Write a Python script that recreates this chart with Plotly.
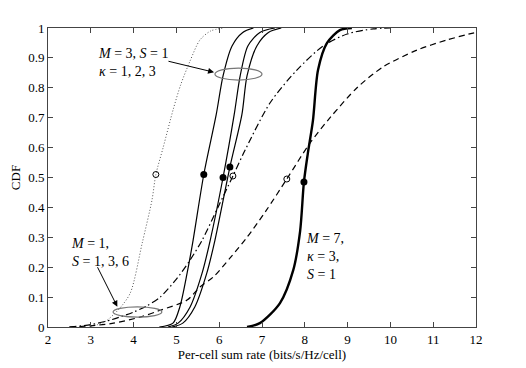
import plotly.graph_objects as go

# CDF curves (rate in bits/s/Hz/cell, CDF value)
# M=1 family (dotted, dash-dot, dashed)
dot_x = [3.0, 3.3, 3.64, 3.92, 4.2, 4.43, 4.52, 4.69, 4.93, 5.1, 5.32, 5.55, 5.8, 6.1]
dot_y = [0.003, 0.015, 0.057, 0.113, 0.28, 0.425, 0.51, 0.60, 0.73, 0.81, 0.89, 0.96, 0.99, 1.0]

dd_x = [2.5, 3.0, 3.5, 4.0, 4.3, 4.62, 5.0, 5.32, 5.6, 5.97, 6.32, 6.6, 7.19, 7.82, 8.43, 8.99, 9.6, 10.0]
dd_y = [0.0, 0.008, 0.025, 0.05, 0.07, 0.10, 0.16, 0.224, 0.29, 0.40, 0.505, 0.59, 0.75, 0.86, 0.94, 0.98, 0.997, 1.0]

da_x = [2.5, 3.0, 3.5, 4.15, 4.6, 5.25, 5.55, 5.86, 6.25, 6.65, 7.1, 7.58, 8.12, 8.59, 9.22, 9.83, 10.62, 11.32, 11.93, 12.0]
da_y = [0.0, 0.004, 0.012, 0.033, 0.055, 0.09, 0.134, 0.167, 0.23, 0.30, 0.39, 0.495, 0.615, 0.70, 0.80, 0.87, 0.926, 0.96, 0.983, 0.985]

# M=3, S=1, kappa=1,2,3 (thin solid)
s1_x = [4.6, 4.92, 5.08, 5.25, 5.39, 5.64, 5.93, 6.09, 6.30, 6.55, 6.8]
s1_y = [0.0, 0.013, 0.067, 0.18, 0.29, 0.51, 0.71, 0.84, 0.94, 0.985, 1.0]

s2_x = [4.8, 5.04, 5.32, 5.60, 5.79, 6.09, 6.35, 6.49, 6.67, 6.95, 7.3]
s2_y = [0.0, 0.013, 0.067, 0.18, 0.29, 0.50, 0.71, 0.84, 0.94, 0.985, 1.0]

s3_x = [4.9, 5.15, 5.43, 5.71, 5.90, 6.25, 6.53, 6.65, 6.88, 7.15, 7.45]
s3_y = [0.0, 0.013, 0.067, 0.18, 0.29, 0.535, 0.71, 0.84, 0.94, 0.985, 1.0]

# M=7, kappa=3, S=1 (thick solid)
t_x = [6.65, 6.95, 7.42, 7.73, 7.89, 7.98, 8.07, 8.19, 8.31, 8.52, 8.82, 9.1]
t_y = [0.0, 0.013, 0.08, 0.19, 0.32, 0.485, 0.58, 0.69, 0.86, 0.95, 0.993, 1.0]

# median markers
open_x = [4.52, 6.32, 7.58]
open_y = [0.51, 0.505, 0.495]
fill_x = [5.64, 6.09, 6.25, 7.98]
fill_y = [0.51, 0.50, 0.535, 0.485]

xticks = [2, 3, 4, 5, 6, 7, 8, 9, 10, 11, 12]
yticks = [0, 0.1, 0.2, 0.3, 0.4, 0.5, 0.6, 0.7, 0.8, 0.9, 1]
ytick_text = ["0", "0.1", "0.2", "0.3", "0.4", "0.5", "0.6", "0.7", "0.8", "0.9", "1"]

FONT = "Liberation Serif"

fig = go.Figure()


def add_curve(x, y, dash="solid", width=1.2, color="black"):
    fig.add_trace(go.Scatter(x=x, y=y, mode="lines",
                             line=dict(color=color, width=width, dash=dash, shape="spline", smoothing=0.8),
                             hoverinfo="skip"))


add_curve(dot_x, dot_y, dash="1px,2px", width=1.0, color="#555")
add_curve(dd_x, dd_y, dash="7px,3px,1.5px,3px")
add_curve(da_x, da_y, dash="6px,4px")
add_curve(s1_x, s1_y)
add_curve(s2_x, s2_y)
add_curve(s3_x, s3_y)
add_curve(t_x, t_y, width=2.4)

fig.add_trace(go.Scatter(x=open_x, y=open_y, mode="markers",
                         marker=dict(symbol="circle-open", size=6, color="black", line=dict(width=1))))
fig.add_trace(go.Scatter(x=fill_x, y=fill_y, mode="markers",
                         marker=dict(symbol="circle", size=7, color="black")))

# ellipses around curve groups
fig.add_shape(type="circle", xref="x", yref="y", x0=5.9, x1=7.0, y0=0.826, y1=0.866,
              line=dict(color="#777", width=1.2))
fig.add_shape(type="circle", xref="x", yref="y", x0=3.52, x1=4.66, y0=0.033, y1=0.067,
              line=dict(color="#777", width=1.2))

# labels with arrows
fig.add_annotation(x=5.88, y=0.852, ax=4.78, ay=0.89, xref="x", yref="y", axref="x", ayref="y",
                   text="", showarrow=True, arrowhead=2, arrowsize=1.2, arrowwidth=1, arrowcolor="black")
fig.add_annotation(x=3.12, y=0.885, xref="x", yref="y", xanchor="left", showarrow=False, align="left",
                   text="<i>M</i> = 3, <i>S</i> = 1<br><i>κ</i> = 1, 2, 3",
                   font=dict(family=FONT, size=14, color="black"))

fig.add_annotation(x=3.62, y=0.068, ax=3.14, ay=0.205, xref="x", yref="y", axref="x", ayref="y",
                   text="", showarrow=True, arrowhead=2, arrowsize=1.2, arrowwidth=1, arrowcolor="black")
fig.add_annotation(x=2.5, y=0.25, xref="x", yref="y", xanchor="left", showarrow=False, align="left",
                   text="<i>M</i> = 1,<br><i>S</i> = 1, 3, 6",
                   font=dict(family=FONT, size=14, color="black"))

fig.add_annotation(x=7.98, y=0.235, xref="x", yref="y", xanchor="left", showarrow=False, align="left",
                   text="<i>M</i> = 7,<br><i>κ</i> = 3,<br><i>S</i> = 1",
                   font=dict(family=FONT, size=14, color="black"))

axis_style = dict(showline=True, linecolor="#444", linewidth=1, mirror="ticks", ticks="inside",
                  ticklen=5, tickcolor="#444", showgrid=False, zeroline=False, automargin=False,
                  tickfont=dict(family=FONT, size=13, color="black"))

fig.update_xaxes(range=[2, 12], tickvals=xticks, title=dict(text="Per-cell sum rate (bits/s/Hz/cell)",
                 font=dict(family=FONT, size=13, color="black"), standoff=2), **axis_style)
fig.update_yaxes(range=[0, 1], tickvals=yticks, ticktext=ytick_text,
                 title=dict(text="CDF", font=dict(family=FONT, size=13, color="black"), standoff=6),
                 **axis_style)

# page body has an 8px margin, so the figure is drawn 8px smaller and shifted
fig.update_layout(width=518, height=360, showlegend=False,
                  margin=dict(l=40, r=50, t=20, b=41),
                  plot_bgcolor="white", paper_bgcolor="white")

fig.write_html("out.html")
